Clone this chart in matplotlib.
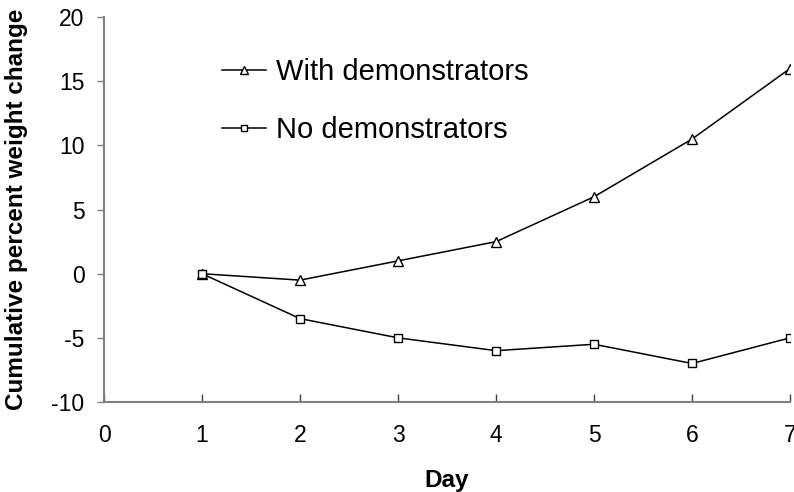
import matplotlib.pyplot as plt

# data
days = [1, 2, 3, 4, 5, 6, 7]
with_demo = [0, -0.5, 1, 2.5, 6, 10.5, 16]
no_demo = [0, -3.5, -5, -6, -5.5, -7, -5]

plt.rcParams['font.family'] = ['Liberation Sans', 'DejaVu Sans']
plt.rcParams['axes.unicode_minus'] = False

fig = plt.figure(figsize=(7.94, 4.92), dpi=100)
ax = fig.add_axes([0.131, 0.183, 0.864, 0.782])

ax.plot(days, with_demo, color='black', lw=1.1, marker='^', ms=7.5,
        mfc='white', mec='black', mew=1.0, label='With demonstrators')
ax.plot(days, no_demo, color='black', lw=1.1, marker='s', ms=6,
        mfc='white', mec='black', mew=1.0, label='No demonstrators')

ax.set_xlim(0, 7)
ax.set_ylim(-10, 20)
ax.set_xticks(range(0, 8))
ax.set_yticks(range(-10, 21, 5))

for s in ['top', 'right']:
    ax.spines[s].set_visible(False)
for s in ['left', 'bottom']:
    ax.spines[s].set_color('#808080')
    ax.spines[s].set_linewidth(1.5)

ax.tick_params(axis='x', direction='in', length=6, width=1, color='#404040',
               labelsize=16.5, pad=16)
ax.tick_params(axis='y', direction='out', length=5, width=1, color='#808080',
               labelsize=16.5, pad=9)

ax.set_xlabel('Day', fontsize=17.5, fontweight='bold', labelpad=16)
ax.set_ylabel('Cumulative percent weight change', fontsize=17.5,
              fontweight='bold', labelpad=17)

leg = ax.legend(loc='upper left', bbox_to_anchor=(0.155, 0.925), frameon=False,
                fontsize=21, handlelength=1.5, handletextpad=0.35,
                labelspacing=1.05, markerscale=0.8, borderaxespad=0)

fig.savefig('out.png', dpi=100)
